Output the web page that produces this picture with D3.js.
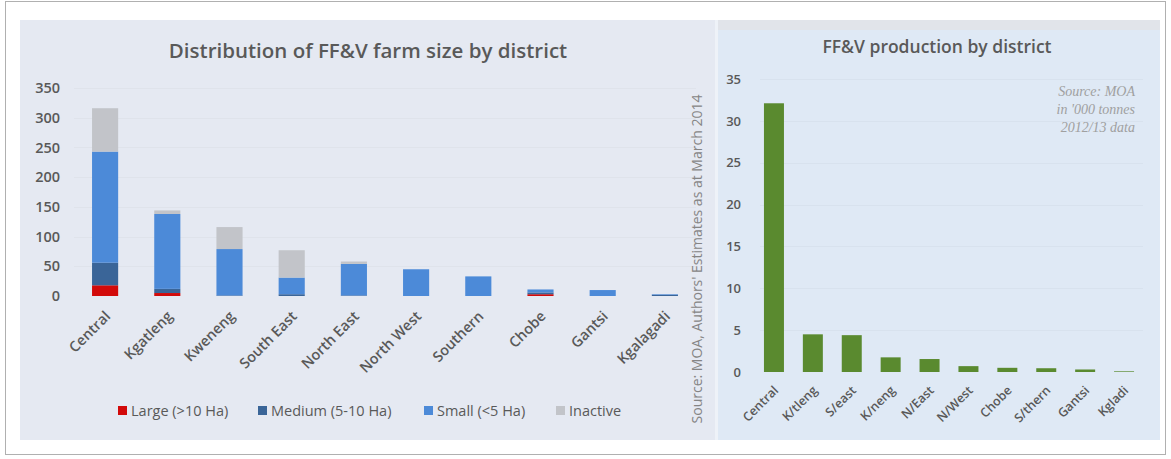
<!DOCTYPE html>
<html><head><meta charset="utf-8">
<script src="https://cdn.jsdelivr.net/npm/d3@7"></script>
<style>body{margin:0;background:#fff}svg{display:block}text{font-family:"Open Sans",sans-serif}</style>
</head><body><svg id="c" width="1171" height="459"></svg>
<script>
// ---- data: left chart ----
const districts = ["Central","Kgatleng","Kweneng","South East","North East","North West","Southern","Chobe","Gantsi","Kgalagadi"];
const large    = [18, 5, 0, 0, 0, 0, 0, 3, 0, 0];
const medium   = [38, 7, 1, 3, 1, 0, 0, 3, 0, 2];
const small    = [187,126,78, 28, 53, 45, 33, 5, 10, 1];
const inactive = [73, 6, 37, 46, 4, 0, 0, 0, 0, 0];
const seriesNames = ["Large (>10 Ha)","Medium (5-10 Ha)","Small (<5 Ha)","Inactive"];
const leftTicks = [0,50,100,150,200,250,300,350];
// ---- data: right chart ----
const prodDistricts = ["Central","K/tleng","S/east","K/neng","N/East","N/West","Chobe","S/thern","Gantsi","Kgladi"];
const production = [32.1, 4.5, 4.4, 1.75, 1.55, 0.7, 0.5, 0.45, 0.3, 0.08];
const rightTicks = [0,5,10,15,20,25,30,35];

const svg = d3.select("#c");
// frame
svg.append("rect").attr("x",5.5).attr("y",1.5).attr("width",1160).attr("height",453).attr("fill","#fff").attr("stroke","#b0b0b0");
// panels
svg.append("rect").attr("x",20).attr("y",20).attr("width",696).attr("height",420).attr("fill","#e5e9f2");
svg.append("rect").attr("x",716).attr("y",20).attr("width",444).attr("height",11).attr("fill","#e1e4ea");
svg.append("rect").attr("x",716).attr("y",30).attr("width",444).attr("height",410).attr("fill","#dfe9f5");
svg.append("line").attr("x1",716.5).attr("x2",716.5).attr("y1",20).attr("y2",440).attr("stroke","#eef2f8").attr("stroke-width",3);

// ---- left chart ----
const xL = d3.scaleBand().domain(districts).range([74,696]).paddingInner(0.58).paddingOuter(0.29);
const yL = d3.scaleLinear().domain([0,350]).range([296,88]);
const colors = ["#d20a0a","#3a6598","#4c8ad8","#c2c4c9"];
const rows = districts.map((d,i)=>({d, "Large (>10 Ha)":large[i], "Medium (5-10 Ha)":medium[i], "Small (<5 Ha)":small[i], "Inactive":inactive[i]}));
const stack = d3.stack().keys(seriesNames)(rows);

const gL = svg.append("g");
gL.selectAll("line.grid").data(leftTicks.slice(1)).join("line")
  .attr("x1",74).attr("x2",696).attr("y1",d=>Math.round(yL(d))+0.5).attr("y2",d=>Math.round(yL(d))+0.5)
  .attr("stroke","#dfe3eb");
const axL = d3.axisLeft(yL).tickValues(leftTicks).tickSize(0).tickPadding(0);
const axLg = gL.append("g").attr("transform","translate(60,0)").call(axL);
axLg.select(".domain").remove();
axLg.selectAll("text").attr("font-size",14.5).attr("fill","#595959").attr("font-weight",600);

gL.selectAll("g.s").data(stack).join("g").attr("fill",(d,i)=>colors[i])
  .selectAll("rect").data(d=>d).join("rect")
  .attr("x",d=>xL(d.data.d)).attr("width",xL.bandwidth())
  .attr("y",d=>yL(d[1])).attr("height",d=>Math.max(0,yL(d[0])-yL(d[1])));

const axB = d3.axisBottom(xL).tickSize(0).tickPadding(0);
const axBg = gL.append("g").attr("transform","translate(0,300)").call(axB);
axBg.select(".domain").remove();
axBg.selectAll("text").attr("font-size",14.5).attr("fill","#595959").attr("font-weight",600)
  .attr("text-anchor","end").attr("dy","0.7em").attr("transform","translate(-1,10) rotate(-45)");

svg.append("text").attr("x",368).attr("y",58).attr("text-anchor","middle").attr("font-size",20.5)
  .attr("font-weight",600).attr("fill","#595959").text("Distribution of FF&V farm size by district");

// legend
const legX = [118,258,424,556];
const lg = svg.append("g");
seriesNames.forEach((n,i)=>{
  lg.append("rect").attr("x",legX[i]).attr("y",406).attr("width",9).attr("height",9).attr("fill",colors[i]);
  lg.append("text").attr("x",legX[i]+13).attr("y",416).attr("font-size",14.5).attr("fill","#595959").text(n);
});

// vertical source
svg.append("text").attr("transform","translate(702,259) rotate(-90)").attr("text-anchor","middle")
  .attr("font-size",14).attr("fill","#858585")
  .text("Source: MOA, Authors' Estimates as at March 2014");

// ---- right chart ----
const xR = d3.scaleBand().domain(prodDistricts).range([754.5,1143.5]).paddingInner(0.486).paddingOuter(0.243);
const yR = d3.scaleLinear().domain([0,35]).range([372,79]);
const gR = svg.append("g");
gR.selectAll("line.grid").data(rightTicks.slice(1)).join("line")
  .attr("x1",760).attr("x2",1143).attr("y1",d=>Math.round(yR(d))+0.5).attr("y2",d=>Math.round(yR(d))+0.5)
  .attr("stroke","#d8e2ee");
const axR = d3.axisLeft(yR).tickValues(rightTicks).tickSize(0).tickPadding(0);
const axRg = gR.append("g").attr("transform","translate(741,0)").call(axR);
axRg.select(".domain").remove();
axRg.selectAll("text").attr("font-size",13).attr("fill","#595959").attr("font-weight",600);
gR.selectAll("rect.bar").data(production).join("rect")
  .attr("x",(d,i)=>xR(prodDistricts[i])).attr("width",xR.bandwidth())
  .attr("y",d=>yR(d)).attr("height",d=>yR(0)-yR(d)).attr("fill","#5a8a2f");
const axRB = d3.axisBottom(xR).tickSize(0).tickPadding(0);
const axRBg = gR.append("g").attr("transform","translate(0,376)").call(axRB);
axRBg.select(".domain").remove();
axRBg.selectAll("text").attr("font-size",12.5).attr("fill","#595959").attr("font-weight",600)
  .attr("text-anchor","end").attr("dy","0.7em").attr("transform","translate(-1,9) rotate(-45)");

svg.append("text").attr("x",937).attr("y",53).attr("text-anchor","middle").attr("font-size",17.5)
  .attr("font-weight",600).attr("fill","#595959").text("FF&V production by district");
const note = ["Source: MOA","in '000 tonnes","2012/13 data"];
svg.append("g").selectAll("text").data(note).join("text")
  .attr("x",1135).attr("y",(d,i)=>96+i*18).attr("text-anchor","end")
  .style("font-family","'Liberation Serif',serif")
  .attr("font-size",14).attr("font-style","italic").attr("fill","#a0a0a0").text(d=>d);
</script></body></html>
